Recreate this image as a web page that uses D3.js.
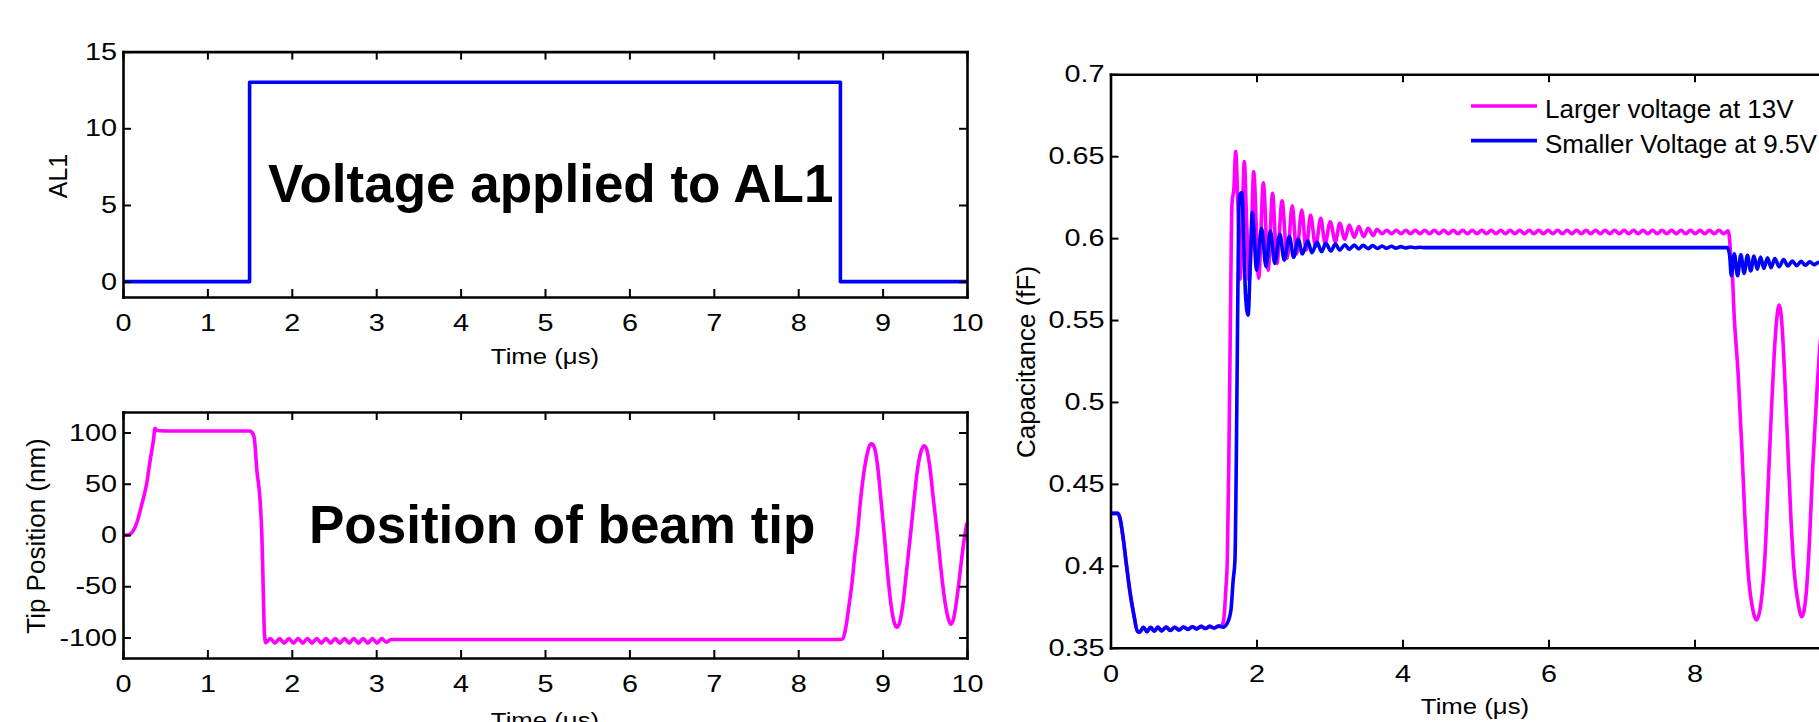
<!DOCTYPE html>
<html><head><meta charset="utf-8">
<script src="https://cdn.jsdelivr.net/npm/d3@7"></script>
<style>
body{margin:0;background:#fff;overflow:hidden}
text{font-family:"Liberation Sans",Arial,Helvetica,sans-serif;fill:#000}
</style>
</head><body>
<svg id="chart" width="1819" height="722"></svg>
<script>
// ---------------- DATA ----------------
// Panel 1: voltage applied to AL1
const al1Time = [0, 1.5, 1.5, 8.5, 8.5, 10];
const al1Volt = [0, 0, 13, 13, 0, 0];

// Panel 2: tip position (nm)
const tipTime = [0,0.04,0.08,0.12,0.16,0.22,0.28,0.32,0.36,0.38,0.40,0.6,1.0,1.5,1.53,1.555,1.585,1.625,1.645,1.655,1.665,1.675,1.69,
  1.745,1.80,1.855,1.91,1.965,2.02,2.075,2.13,2.185,2.24,2.295,2.35,2.405,2.46,2.515,2.57,2.625,2.68,2.735,2.79,2.845,2.90,2.955,3.01,3.065,3.12,3.175,
  4.0,6.0,8.50,8.53,8.56,8.60,8.64,8.67,8.70,8.74,8.78,8.82,8.85,8.87,8.90,8.94,8.98,9.02,9.06,9.10,9.14,9.17,9.20,9.24,9.28,9.33,9.37,9.41,9.45,9.49,9.52,9.56,9.60,9.65,9.69,9.73,9.77,9.81,9.84,9.88,9.92,9.96,10];
const tipPos = [0,0,0.5,4,11,29,50,72,92,104,102,101.5,101.5,101.5,100,95,64,33,0,-30,-65,-95,-105,
  -101,-105.5,-101,-105.5,-101,-105.5,-101,-105.5,-101,-105.5,-101,-105.5,-101,-105.5,-101,-105.5,-101,-105.5,-101,-105.5,-101,-105.5,-101,-105.5,-101,-104.5,-102,
  -102,-102,-102,-101,-92,-70,-45,-20,0,35,62,80,88,89,86,68,35,0,-38,-68,-86,-90,-86,-68,-38,0,32,62,80,87,84,66,36,0,-32,-60,-79,-87,-82,-62,-35,-8,12];

// Panel 3: capacitance (fF)
const capTimeSmall = [0,0.10,0.13,0.17,0.22,0.27,0.32,0.37,0.40,0.45,0.50,0.55,0.60,0.65,0.70,0.76,0.82,0.88,0.94,1.00,1.06,1.12,1.18,1.24,1.30,1.36,1.42,1.48,1.54,1.60,1.65,1.68,1.705,1.72,1.735,1.75,1.765,1.80,1.825,1.85,1.885,1.915,1.943,1.97,2.00,2.07,2.13,2.19,2.25,2.32,2.38,2.45,2.51,2.57,2.63,2.70,2.76,2.83,2.89,2.95,3.02,3.08,3.14,3.21,3.27,3.34,3.40,3.46,3.53,3.59,3.66,3.72,3.78,3.85,3.91,3.98,4.04,4.11,4.17,4.24,4.30,6.0,8.45,8.48,8.505,8.545,8.59,8.635,8.68,8.725,8.77,8.815,8.86,8.905,8.95,9.00,9.05,9.10,9.16,9.22,9.28,9.34,9.40,9.46,9.52,9.58,9.64,9.70,9.76,9.82,9.88,9.94,10.0];
const capSmall = [0.432,0.432,0.429,0.418,0.400,0.383,0.370,0.360,0.3595,0.3625,0.3598,0.3625,0.3600,0.3626,0.3602,0.3626,0.3605,0.3625,0.3608,0.3626,0.3612,0.3628,0.3615,0.3630,0.3618,0.3630,0.3620,0.3632,0.3625,0.365,0.373,0.391,0.4035,0.45,0.52,0.59,0.625,0.628,0.60,0.565,0.553,0.585,0.6157,0.600,0.5805,0.606,0.5826,0.6043,0.5846,0.6023,0.5866,0.6009,0.5883,0.5993,0.5903,0.5984,0.5911,0.5974,0.5917,0.5968,0.5921,0.5964,0.5927,0.5960,0.5931,0.5958,0.5934,0.5956,0.5936,0.5954,0.5937,0.5952,0.5938,0.5950,0.5939,0.5948,0.5940,0.5946,0.5941,0.5944,0.5942,0.5942,0.5942,0.590,0.577,0.5905,0.577,0.590,0.5785,0.5895,0.580,0.589,0.581,0.5885,0.5815,0.588,0.582,0.5875,0.5825,0.587,0.583,0.586,0.5832,0.5858,0.5835,0.5855,0.5838,0.5852,0.584,0.585,0.5842,0.5848,0.5845];

const capTimeLarge = [0,0.10,0.13,0.17,0.22,0.27,0.32,0.37,0.40,0.45,0.50,0.55,0.60,0.65,0.70,0.76,0.82,0.88,0.94,1.00,1.06,1.12,1.18,1.24,1.30,1.36,1.42,1.48,1.52,1.55,1.58,1.60,1.62,1.64,1.655,1.665,1.69,1.715,1.745,1.775,1.80,1.833,1.865,1.90,1.93,1.961,2.03,2.094,2.16,2.22,2.28,2.35,2.42,2.49,2.55,2.62,2.68,2.74,2.81,2.88,2.94,3.01,3.08,3.14,3.21,3.27,3.34,3.40,3.47,3.53,3.60,3.65,
  3.72,3.785,3.85,3.915,3.98,4.045,4.11,4.175,4.24,4.305,4.37,4.435,4.5,4.565,4.63,4.695,4.76,4.825,4.89,4.955,5.02,5.085,5.15,5.215,5.28,5.345,5.41,5.475,5.54,5.605,5.67,5.735,5.8,5.865,5.93,5.995,6.06,6.125,6.19,6.255,6.32,6.385,6.45,6.515,6.58,6.645,6.71,6.775,6.84,6.905,6.97,7.035,7.1,7.165,7.23,7.295,7.36,7.425,7.49,7.555,7.62,7.685,7.75,7.815,7.88,7.945,8.01,8.075,8.14,8.205,8.27,8.335,8.4,
  8.46,8.48,8.50,8.52,8.54,8.60,8.65,8.69,8.74,8.80,8.85,8.91,8.97,9.01,9.05,9.09,9.13,9.16,9.20,9.24,9.28,9.32,9.36,9.42,9.47,9.53,9.58,9.62,9.67,9.72,9.78];
const capLarge = [0.432,0.432,0.429,0.418,0.400,0.383,0.370,0.360,0.3595,0.3625,0.3598,0.3625,0.3600,0.3626,0.3602,0.3626,0.3605,0.3625,0.3608,0.3626,0.3612,0.3628,0.3615,0.3630,0.3618,0.3630,0.3620,0.3632,0.3635,0.367,0.3855,0.4035,0.46,0.54,0.60,0.622,0.63,0.6528,0.62,0.575,0.60,0.6467,0.61,0.574,0.60,0.6406,0.5755,0.6338,0.5805,0.6273,0.5846,0.6228,0.5877,0.6198,0.5903,0.6172,0.5927,0.6141,0.5948,0.6121,0.5968,0.610,0.5978,0.609,0.5993,0.608,0.6005,0.607,0.6009,0.606,0.6015,0.6054,
  0.6027,0.6048,0.6027,0.6048,0.6027,0.6048,0.6027,0.6048,0.6027,0.6048,0.6027,0.6048,0.6027,0.6048,0.6027,0.6048,0.6027,0.6048,0.6027,0.6048,0.6027,0.6048,0.6027,0.6048,0.6027,0.6048,0.6027,0.6048,0.6027,0.6048,0.6027,0.6048,0.6027,0.6048,0.6027,0.6048,0.6027,0.6048,0.6027,0.6048,0.6027,0.6048,0.6027,0.6048,0.6027,0.6048,0.6027,0.6048,0.6027,0.6048,0.6027,0.6048,0.6027,0.6048,0.6027,0.6048,0.6027,0.6048,0.6027,0.6048,0.6027,0.6048,0.6027,0.6048,0.6027,0.6048,0.6027,0.6048,0.6027,0.6048,0.6027,0.6048,0.6027,
  0.6045,0.600,0.585,0.5765,0.556,0.5154,0.4706,0.43,0.3933,0.373,0.3669,0.377,0.4096,0.4503,0.491,0.5276,0.552,0.5592,0.5459,0.5114,0.4706,0.43,0.3994,0.377,0.3689,0.3831,0.4198,0.4604,0.5012,0.535,0.555];

// Ticks and labels
const timeTicksLeft = [0,1,2,3,4,5,6,7,8,9,10];
const al1Ticks = [0,5,10,15];
const tipTicks = [-100,-50,0,50,100];
const capTimeTicks = [0,2,4,6,8];
const capTicks = [0.35,0.4,0.45,0.5,0.55,0.6,0.65,0.7];
const capTickLabels = ["0.35","0.4","0.45","0.5","0.55","0.6","0.65","0.7"];
const seriesNames = ["Larger voltage at 13V","Smaller Voltage at 9.5V"];
const seriesColors = ["#ff00ff","#0000ff"];

// ---------------- DRAW ----------------
const svg = d3.select("#chart");
svg.append("rect").attr("width",1819).attr("height",722).attr("fill","#fff");
const plain = d => String(d);

function frame(xs, ys, xt, yt, yfmt, xfmt){
  const g = svg.append("g");
  const [x0,x1] = xs.range(), [yb,yt0] = ys.range();
  const styleAxis = a => {
    a.select(".domain").attr("stroke","#000").attr("stroke-width",2.6).attr("stroke-linecap","square");
    a.selectAll(".tick line").attr("stroke","#000").attr("stroke-width",2);
    a.selectAll(".tick text").attr("font-size",24).attr("font-family",'"Liberation Sans",Arial,sans-serif');
  };
  const b = g.append("g").attr("transform",`translate(0,${yb})`)
    .call(d3.axisBottom(xs).tickValues(xt).tickSizeInner(-8).tickSizeOuter(0).tickPadding(17).tickFormat(xfmt||plain));
  styleAxis(b); b.selectAll(".tick text").attr("transform","scale(1.2,1)");
  const t = g.append("g").attr("transform",`translate(0,${yt0})`)
    .call(d3.axisTop(xs).tickValues(xt).tickSizeInner(-8).tickSizeOuter(0).tickFormat(""));
  styleAxis(t);
  const l = g.append("g").attr("transform",`translate(${x0},0)`)
    .call(d3.axisLeft(ys).tickValues(yt).tickSizeInner(-8).tickSizeOuter(0).tickPadding(5).tickFormat(yfmt||plain));
  styleAxis(l); l.selectAll(".tick text").attr("transform","scale(1.2,1)");
  const r = g.append("g").attr("transform",`translate(${x1},0)`)
    .call(d3.axisRight(ys).tickValues(yt).tickSizeInner(-8).tickSizeOuter(0).tickFormat(""));
  styleAxis(r);
  return g;
}

function seriesLine(xs, ys, tArr, vArr, color, curve){
  const pts = tArr.map((t,i)=>[t,vArr[i]]);
  svg.append("path").datum(pts)
    .attr("fill","none").attr("stroke",color).attr("stroke-width",3.6)
    .attr("stroke-linejoin","round")
    .attr("d", d3.line().x(d=>xs(d[0])).y(d=>ys(d[1])).curve(curve)(pts));
}

// Panel 1
const x1s = d3.scaleLinear().domain([0,10]).range([123,967]);
const y1s = d3.scaleLinear().domain([-1,15]).range([297,51.6]);
seriesLine(x1s,y1s,al1Time,al1Volt,"#0000ff",d3.curveLinear);
frame(x1s,y1s,timeTicksLeft,al1Ticks);

// Panel 2
const x2s = d3.scaleLinear().domain([0,10]).range([123,967]);
const y2s = d3.scaleLinear().domain([-120,120]).range([658,412]);
seriesLine(x2s,y2s,tipTime,tipPos,"#ff00ff",d3.curveMonotoneX);
frame(x2s,y2s,timeTicksLeft,tipTicks);

// Panel 3
const x3s = d3.scaleLinear().domain([0,10]).range([1110.5,1840.5]);
const y3s = d3.scaleLinear().domain([0.35,0.7]).range([647.7,74.3]);
seriesLine(x3s,y3s,capTimeLarge,capLarge,seriesColors[0],d3.curveMonotoneX);
seriesLine(x3s,y3s,capTimeSmall,capSmall,seriesColors[1],d3.curveMonotoneX);
frame(x3s,y3s,capTimeTicks,capTicks,(d)=>capTickLabels[capTicks.indexOf(d)]);

// Legend
seriesNames.forEach((n,i)=>{
  const yy = 106 + i*34.6;
  svg.append("line").attr("x1",1471).attr("x2",1537).attr("y1",yy).attr("y2",yy)
    .attr("stroke",seriesColors[i]).attr("stroke-width",3.6);
  svg.append("text").attr("x",1545).attr("y",yy+12.3).attr("font-size",26).text(n);
});

// Axis labels
function xlabel(x,y,txt){
  svg.append("text").attr("transform",`translate(${x},${y}) scale(1.12,1)`).attr("text-anchor","middle").attr("font-size",23).text(txt);
}
xlabel(545,364,"Time (\u03bcs)");
xlabel(545,728,"Time (\u03bcs)");
xlabel(1475,714,"Time (\u03bcs)");
function ylabel(x,y,txt,fs){
  svg.append("text").attr("transform",`translate(${x},${y}) rotate(-90)`).attr("text-anchor","middle").attr("font-size",fs).text(txt);
}
ylabel(67,176,"AL1",25);
ylabel(45,536,"Tip Position (nm)",26);
ylabel(1035,362,"Capacitance (fF)",26);

// Annotations
svg.append("text").attr("x",268).attr("y",202).attr("font-size",53).attr("font-weight","bold").text("Voltage applied to AL1");
svg.append("text").attr("x",309).attr("y",543).attr("font-size",53).attr("font-weight","bold").text("Position of beam tip");
</script>
</body></html>
